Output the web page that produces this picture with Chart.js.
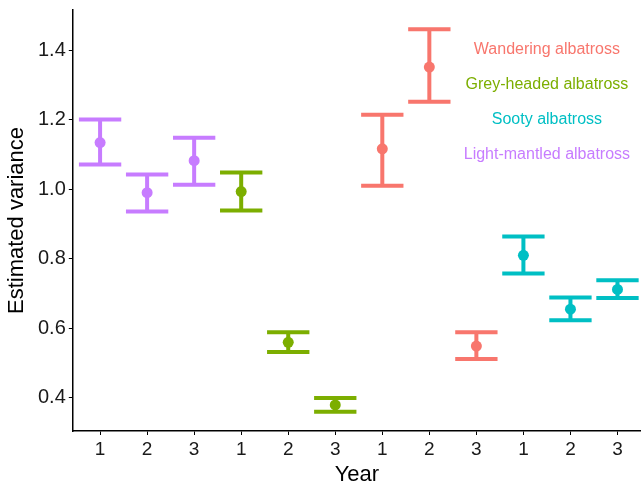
<!DOCTYPE html>
<html>
<head>
<meta charset="utf-8">
<script src="https://cdn.jsdelivr.net/npm/chart.js@4"></script>
<style>
  html, body { margin: 0; padding: 0; background: #fff; }
  #wrap { width: 641px; height: 481px; }
</style>
</head>
<body>
<div id="wrap"><canvas id="GraficoVariancia"></canvas></div>
<script>
const yearLabels = ['1', '2', '3', '1', '2', '3', '1', '2', '3', '1', '2', '3'];
const yTicks = [0.4, 0.6, 0.8, 1.0, 1.2, 1.4];

// order along the x axis
const species = ['Light-mantled albatross', 'Grey-headed albatross', 'Wandering albatross', 'Sooty albatross'];
const colors = ['#C77CFF', '#7CAE00', '#F8766D', '#00BFC4'];

const lightMantledEst = [1.134, 0.990, 1.082];
const lightMantledLow = [1.071, 0.936, 1.013];
const lightMantledHigh = [1.200, 1.042, 1.148];

const greyHeadedEst = [0.993, 0.560, 0.380];
const greyHeadedLow = [0.939, 0.532, 0.360];
const greyHeadedHigh = [1.048, 0.589, 0.400];

const wanderingEst = [1.116, 1.351, 0.549];
const wanderingLow = [1.010, 1.251, 0.512];
const wanderingHigh = [1.214, 1.460, 0.589];

const sootyEst = [0.810, 0.655, 0.712];
const sootyLow = [0.758, 0.623, 0.687];
const sootyHigh = [0.864, 0.689, 0.738];

// legend text order (top to bottom) and the y value it sits at
const legendNames = ['Wandering albatross', 'Grey-headed albatross', 'Sooty albatross', 'Light-mantled albatross'];
const legendColors = ['#F8766D', '#7CAE00', '#00BFC4', '#C77CFF'];
const legendY = [1.4, 1.3, 1.2, 1.1];
const legendX = 9.5;

const est = [lightMantledEst, greyHeadedEst, wanderingEst, sootyEst];
const low = [lightMantledLow, greyHeadedLow, wanderingLow, sootyLow];
const high = [lightMantledHigh, greyHeadedHigh, wanderingHigh, sootyHigh];

const datasets = species.map((nome, g) => ({
  label: nome,
  data: est[g].map((v, i) => ({ x: g * 3 + i, y: v, lo: low[g][i], hi: high[g][i] })),
  backgroundColor: colors[g],
  borderColor: colors[g],
  pointRadius: 5.5,
  pointHoverRadius: 5.5,
  borderWidth: 0,
  showLine: false
}));

const errorBars = {
  id: 'errorBars',
  beforeDatasetsDraw(chart) {
    const ctx = chart.ctx;
    const xs = chart.scales.x, ys = chart.scales.y;
    ctx.save();
    ctx.lineWidth = 4;
    ctx.lineCap = 'butt';
    chart.data.datasets.forEach((ds) => {
      ctx.strokeStyle = ds.borderColor;
      ds.data.forEach((p) => {
        const xc = xs.getPixelForValue(p.x);
        const x0 = xs.getPixelForValue(p.x - 0.45);
        const x1 = xs.getPixelForValue(p.x + 0.45);
        const yl = ys.getPixelForValue(p.lo);
        const yh = ys.getPixelForValue(p.hi);
        ctx.beginPath();
        ctx.moveTo(xc, yl); ctx.lineTo(xc, yh);
        ctx.moveTo(x0, yl); ctx.lineTo(x1, yl);
        ctx.moveTo(x0, yh); ctx.lineTo(x1, yh);
        ctx.stroke();
      });
    });
    ctx.restore();
  }
};

const legendText = {
  id: 'legendText',
  afterDraw(chart) {
    const ctx = chart.ctx;
    const xs = chart.scales.x, ys = chart.scales.y;
    ctx.save();
    ctx.font = '16px Arial, "Liberation Sans", sans-serif';
    ctx.textAlign = 'center';
    ctx.textBaseline = 'middle';
    legendNames.forEach((t, i) => {
      ctx.fillStyle = legendColors[i];
      ctx.fillText(t, xs.getPixelForValue(legendX), ys.getPixelForValue(legendY[i]));
    });
    ctx.restore();
  }
};

const fonte = 'Arial, "Liberation Sans", sans-serif';
const grafico = document.getElementById('GraficoVariancia');

const graficoVariancia = new Chart(grafico, {
  type: 'scatter',
  data: { datasets: datasets },
  plugins: [errorBars, legendText],
  options: {
    responsive: true,
    maintainAspectRatio: false,
    animation: false,
    layout: { autoPadding: false, padding: { left: 6, right: 0, top: 0, bottom: -5 } },
    plugins: {
      legend: { display: false },
      tooltip: { enabled: false }
    },
    scales: {
      x: {
        type: 'linear',
        min: -0.58,
        max: 11.5,
        afterBuildTicks: (axis) => { axis.ticks = yearLabels.map((_, i) => ({ value: i })); },
        afterFit: (axis) => { axis.paddingRight = 0; axis.paddingLeft = 0; },
        ticks: {
          callback: (v) => yearLabels[v],
          color: '#1a1a1a',
          font: { family: fonte, size: 19, lineHeight: 1 },
          padding: 5,
          maxRotation: 0,
          autoSkip: false
        },
        grid: { drawOnChartArea: false, drawTicks: true, tickLength: 4, color: '#000', lineWidth: 1 },
        border: { display: true, color: '#000', width: 1.5 },
        title: {
          display: true,
          text: 'Year',
          color: '#000',
          font: { family: fonte, size: 22, lineHeight: 1 },
          padding: { top: 0, bottom: 0 }
        }
      },
      y: {
        min: 0.305,
        max: 1.515,
        afterBuildTicks: (axis) => { axis.ticks = yTicks.map((v) => ({ value: v })); },
        afterFit: (axis) => { axis.paddingTop = 10; axis.paddingBottom = 0; },
        ticks: {
          callback: (v) => v.toFixed(1),
          color: '#1a1a1a',
          font: { family: fonte, size: 20, lineHeight: 1 },
          padding: 3
        },
        grid: { drawOnChartArea: false, drawTicks: true, tickLength: 4, color: '#000', lineWidth: 1 },
        border: { display: true, color: '#000', width: 1.5 },
        title: {
          display: true,
          text: 'Estimated variance',
          color: '#000',
          font: { family: fonte, size: 22, lineHeight: 1 },
          padding: { top: 0, bottom: 7 }
        }
      }
    }
  }
});
</script>
</body>
</html>
